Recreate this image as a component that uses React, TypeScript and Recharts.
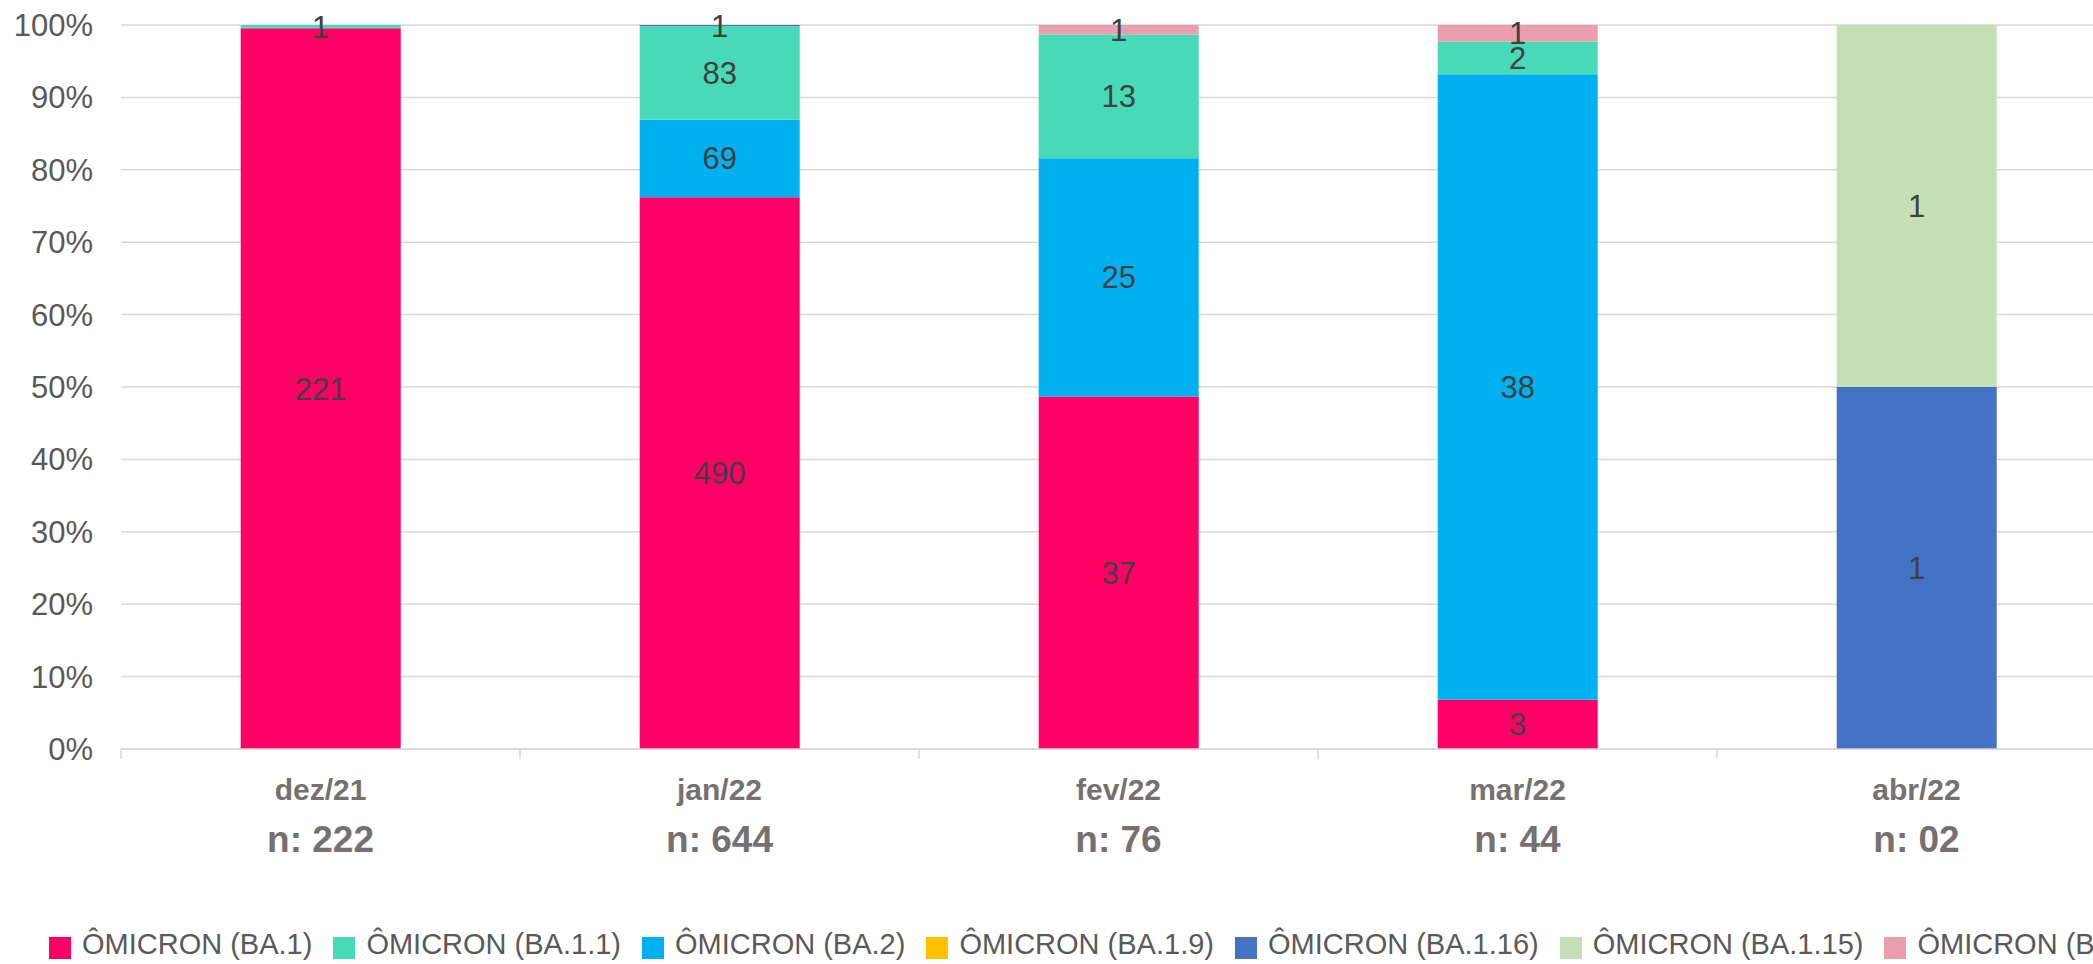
import React from 'react';
import { BarChart, Bar, XAxis, YAxis, CartesianGrid, Legend, LabelList } from 'recharts';

const months = ['dez/21', 'jan/22', 'fev/22', 'mar/22', 'abr/22'];
const nLabels = ['n: 222', 'n: 644', 'n: 76', 'n: 44', 'n: 02'];

const ba1 = [221, 490, 37, 3, 0];
const ba11 = [1, 83, 13, 2, 0];
const ba2 = [0, 69, 25, 38, 0];
const ba19 = [0, 0, 0, 0, 0];
const ba116 = [0, 1, 0, 0, 1];
const ba115 = [0, 0, 0, 0, 1];
const baOther = [0, 0, 1, 1, 0];

const yTicks = [0, 0.1, 0.2, 0.3, 0.4, 0.5, 0.6, 0.7, 0.8, 0.9, 1];

const legendItems = [
  { key: 'ba1', name: 'ÔMICRON (BA.1)', color: '#FF0066' },
  { key: 'ba11', name: 'ÔMICRON (BA.1.1)', color: '#48D9B7' },
  { key: 'ba2', name: 'ÔMICRON (BA.2)', color: '#00B0F0' },
  { key: 'ba19', name: 'ÔMICRON (BA.1.9)', color: '#FFC000' },
  { key: 'ba116', name: 'ÔMICRON (BA.1.16)', color: '#4472C4' },
  { key: 'ba115', name: 'ÔMICRON (BA.1.15)', color: '#C5E0B4' },
  { key: 'baOther', name: 'ÔMICRON (BA.1.14)', color: '#EA9FAF' },
];

const stackOrder = ['ba1', 'ba2', 'ba11', 'ba116', 'ba19', 'ba115', 'baOther'];

const seriesValues: Record<string, number[]> = { ba1, ba11, ba2, ba19, ba116, ba115, baOther };

const data = months.map((m, i) => {
  const row: Record<string, any> = { month: m, n: nLabels[i] };
  Object.keys(seriesValues).forEach((k) => {
    const v = seriesValues[k][i];
    row[k] = v > 0 ? v : undefined;
  });
  return row;
});

const CHART_W = 2140;
const CHART_H = 964;
const MARGIN = { top: 25, right: 24, bottom: 0, left: 0 };
const Y_W = 121;
const PLOT_W = CHART_W - MARGIN.left - MARGIN.right - Y_W;
const BAND = PLOT_W / months.length;
const FONT = '"Liberation Sans", Arial, sans-serif';

const XTick = (props: any) => {
  const { x, y, payload } = props;
  const idx = payload.index;
  return (
    <g>
      <line x1={x - BAND / 2} x2={x - BAND / 2} y1={y} y2={y + 10} stroke="#D9D9D9" strokeWidth={1.5} />
      {idx === months.length - 1 && (
        <line x1={x + BAND / 2} x2={x + BAND / 2} y1={y} y2={y + 10} stroke="#D9D9D9" strokeWidth={1.5} />
      )}
      <text x={x} y={y + 51} textAnchor="middle" fill="#767171" fontSize={30} fontWeight="bold" fontFamily={FONT}>
        {payload.value}
      </text>
      <text x={x} y={y + 103} textAnchor="middle" fill="#767171" fontSize={37} fontWeight="bold" fontFamily={FONT}>
        {nLabels[idx]}
      </text>
    </g>
  );
};

const LegendContent = () => (
  <div
    style={{
      display: 'flex',
      alignItems: 'center',
      height: 40,
      paddingLeft: 49,
      whiteSpace: 'nowrap',
      fontFamily: FONT,
      fontSize: 29,
      color: '#595959',
    }}
  >
    {legendItems.map((it) => (
      <div key={it.key} style={{ display: 'flex', alignItems: 'center', marginRight: 21 }}>
        <div style={{ width: 22, height: 22, background: it.color, marginRight: 11, marginTop: 8 }} />
        <span>{it.name}</span>
      </div>
    ))}
  </div>
);

const fmt = (v: any) => (v === undefined || v === null || v === 0 ? '' : String(v));

export default function App() {
  const colorOf: Record<string, string> = {};
  legendItems.forEach((l) => (colorOf[l.key] = l.color));
  const nameOf: Record<string, string> = {};
  legendItems.forEach((l) => (nameOf[l.key] = l.name));
  return (
    <div style={{ position: 'fixed', left: 0, top: 0, width: 2093, height: 964, overflow: 'hidden', background: '#fff' }}>
      <BarChart
        width={CHART_W}
        height={CHART_H}
        data={data}
        stackOffset="expand"
        margin={MARGIN}
        barCategoryGap="30%"
      >
        <CartesianGrid vertical={false} stroke="#D9D9D9" strokeWidth={1.5} />
        <XAxis
          dataKey="month"
          axisLine={{ stroke: '#D9D9D9', strokeWidth: 1.5 }}
          tickLine={false}
          tickSize={0}
          tickMargin={0}
          height={175}
          interval={0}
          tick={<XTick />}
        />
        <YAxis
          width={Y_W}
          domain={[0, 1]}
          ticks={yTicks}
          tickFormatter={(v: number) => `${Math.round(v * 100)}%`}
          axisLine={false}
          tickLine={false}
          tickMargin={22}
          tick={{ fill: '#595959', fontSize: 31, fontFamily: FONT }}
        />
        <Legend verticalAlign="bottom" align="left" content={<LegendContent />} />
        {stackOrder.map((k) => (
          <Bar key={k} dataKey={k} name={nameOf[k]} stackId="a" fill={colorOf[k]} isAnimationActive={false}>
            <LabelList
              dataKey={k}
              position="center"
              formatter={fmt}
              fill="#404040"
              fontSize={31}
              fontFamily={FONT}
            />
          </Bar>
        ))}
      </BarChart>
    </div>
  );
}
